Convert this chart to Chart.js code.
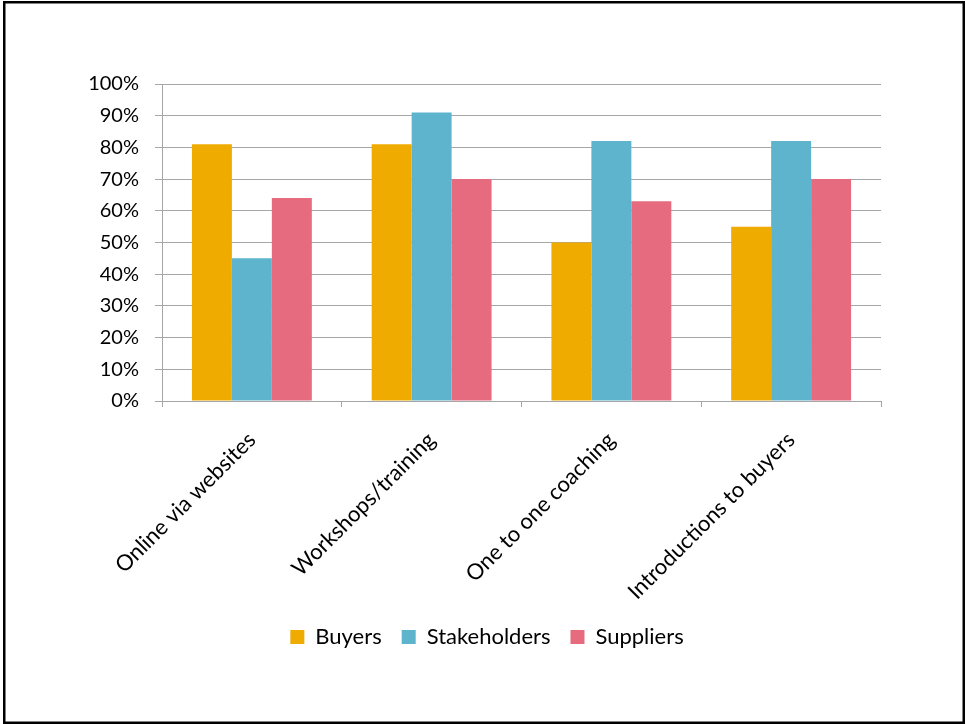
<!DOCTYPE html>
<html>
<head>
<meta charset="utf-8">
<style>
  html, body { margin: 0; padding: 0; background: #fff; }
  #wrap { position: relative; width: 966px; height: 724px; }
</style>
<script src="https://cdn.jsdelivr.net/npm/chart.js@4"></script>
</head>
<body>
<div id="wrap"><canvas id="chBar" width="966" height="724"></canvas></div>
<script>
// support channels, share of respondents per group
const categories = ['Online via websites', 'Workshops/training', 'One to one coaching', 'Introductions to buyers'];
const buyers = [81, 81, 50, 55];
const stakeholders = [45, 91, 82, 82];
const suppliers = [64, 70, 63, 70];
const seriesNames = ['Buyers', 'Stakeholders', 'Suppliers'];
const colors = ['#F0AB00', '#5EB4CD', '#E66B7E'];

const gridGray = '#A6A6A6';
const fontFamily = 'Lato, "Open Sans", sans-serif';

// black frame around the whole chart
const framePlugin = {
  id: 'frame',
  afterDraw(chart) {
    const ctx = chart.ctx;
    ctx.save();
    ctx.strokeStyle = '#000';
    ctx.lineWidth = 2.5;
    ctx.strokeRect(4.25, 2.25, 959.5, 720.5);
    ctx.restore();
  }
};

// centre the legend on the page instead of on the padded layout box
const legendShift = {
  id: 'legendShift',
  afterLayout(chart) {
    const lg = chart.legend;
    if (!lg) return;
    const dx = chart.width / 2 + 4 - (lg.left + lg.right) / 2;
    lg.left += dx;
    lg.right += dx;
  }
};

Chart.defaults.font.family = fontFamily;
Chart.defaults.color = '#000';

const chBarData = {
  labels: categories,
  datasets: [buyers, stakeholders, suppliers].map((d, i) => ({
    label: seriesNames[i],
    data: d,
    backgroundColor: colors[i],
    borderWidth: 0,
    categoryPercentage: 0.667,
    barPercentage: 1
  }))
};

const chBar = document.getElementById('chBar');
if (chBar) {
  new Chart(chBar, {
    type: 'bar',
    data: chBarData,
    plugins: [framePlugin, legendShift],
    options: {
      responsive: false,
      animation: false,
      layout: { padding: { left: 20, right: 85, top: 84, bottom: 66 } },
      plugins: {
        tooltip: { enabled: false },
        legend: {
          position: 'bottom',
          labels: {
            boxWidth: 14,
            boxHeight: 14,
            padding: 20,
            font: { size: 22, family: fontFamily }
          }
        }
      },
      scales: {
        y: {
          min: 0,
          max: 100,
          ticks: {
            stepSize: 10,
            padding: 16,
            font: { size: 20, family: fontFamily },
            callback: v => v + '%'
          },
          grid: { color: gridGray, lineWidth: 1, tickLength: 7 },
          border: { color: gridGray, width: 1 },
          afterFit(scale) { scale.width = 142; }
        },
        x: {
          ticks: {
            maxRotation: 45,
            minRotation: 45,
            padding: 20,
            font: { size: 22, family: fontFamily }
          },
          grid: { drawOnChartArea: false, color: gridGray, tickLength: 6, offset: true },
          border: { color: gridGray, width: 1 },
          afterFit(scale) { scale.height = 205; }
        }
      }
    }
  });
}
</script>
</body>
</html>
